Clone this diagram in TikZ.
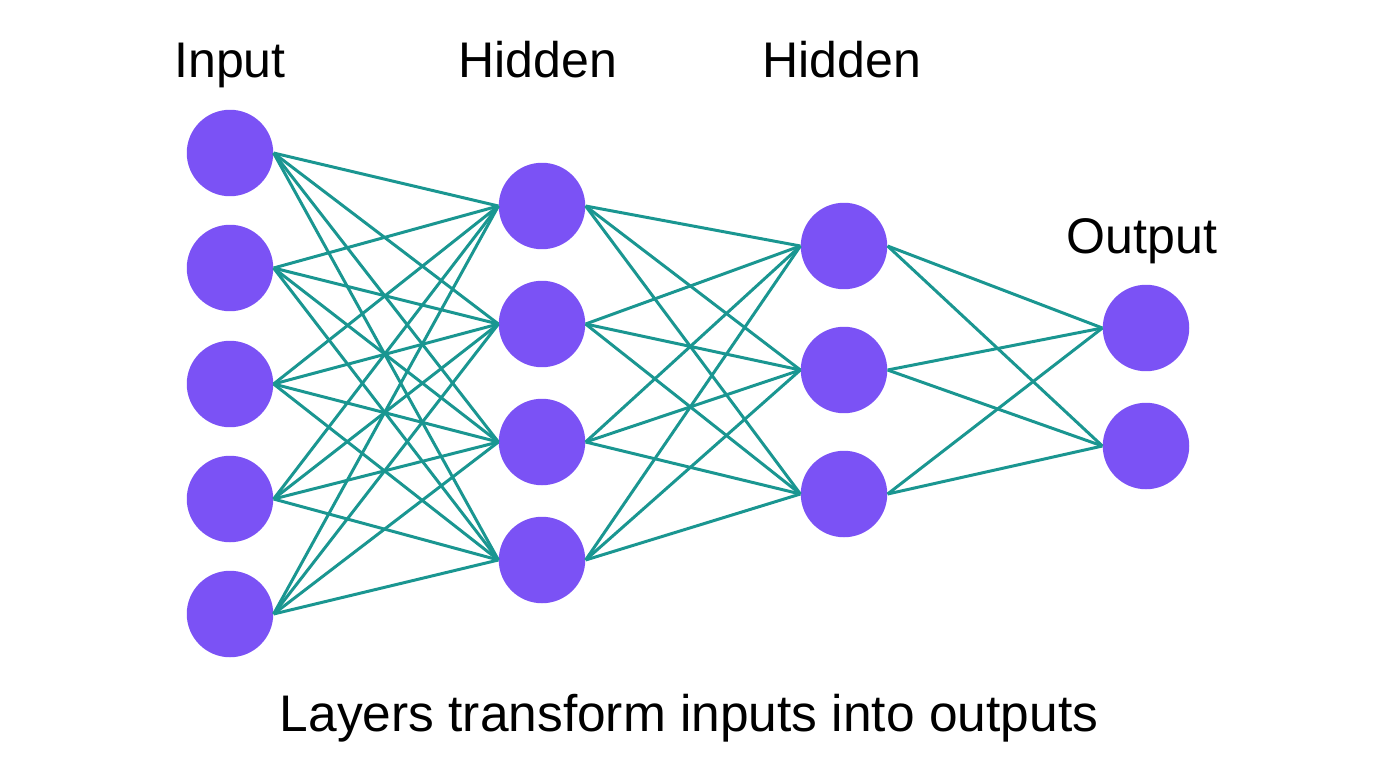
\documentclass[tikz,border=0pt]{standalone}
\usepackage{fontspec}
\setmainfont{Liberation Sans}
\usetikzlibrary{positioning}
\definecolor{neuron}{HTML}{7B52F5}
\definecolor{synapse}{HTML}{1A9691}

\begin{document}
\begin{tikzpicture}[
    x=0.02cm,y=-0.02cm,
    neuron/.style={circle,fill=neuron,minimum size=1.73cm,inner sep=0pt},
    layertitle/.style={anchor=base,font=\fontsize{28.5}{34}\selectfont},
    link/.style={draw=synapse,line width=1.7pt}
]
    \useasboundingbox (0,0) rectangle (1376,768);

    % layers
    \foreach \y [count=\i] in {153,268,384,499,614}
        \node[neuron] (in\i) at (230,\y) {};
    \foreach \y [count=\i] in {206,324,442,560}
        \node[neuron] (hA\i) at (542,\y) {};
    \foreach \y [count=\i] in {246,370,494}
        \node[neuron] (hB\i) at (844,\y) {};
    \foreach \y [count=\i] in {328,446}
        \node[neuron] (out\i) at (1146,\y) {};

    % titles
    \node[layertitle] (tin) at (230,77) {Input};
    \node[layertitle] (thA) at (538,77) {Hidden};
    \node[layertitle] (thB) at (842,77) {Hidden};
    \node[layertitle] (tout) at (1142,253) {Output};
    \node[anchor=base,font=\fontsize{29.3}{35}\selectfont] (caption) at (689,731) {Layers transform inputs into outputs};

    % connections
    \foreach \a in {1,...,5}
        \foreach \b in {1,...,4}
            \draw[link] (in\a.east) -- (hA\b.west);
    \foreach \a in {1,...,4}
        \foreach \b in {1,...,3}
            \draw[link] (hA\a.east) -- (hB\b.west);
    \foreach \a in {1,...,3}
        \foreach \b in {1,2}
            \draw[link] (hB\a.east) -- (out\b.west);
\end{tikzpicture}
\end{document}
